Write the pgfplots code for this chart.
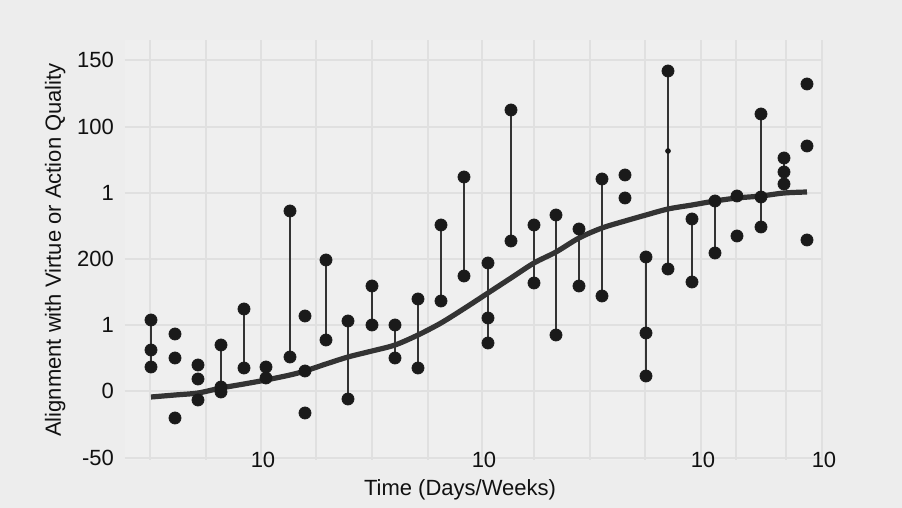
\documentclass[border=0pt]{standalone}
\usepackage{fontspec}
\setmainfont{Liberation Sans}
\usepackage{pgfplots}
\pgfplotsset{compat=1.18}
\usepackage{pgfplotstable}
\definecolor{outerbg}{HTML}{EDEDED}
\definecolor{plotbg}{HTML}{EFEFEF}
\definecolor{gridc}{HTML}{E0E0E0}
\definecolor{ink}{HTML}{1A1A1A}
\definecolor{labelc}{HTML}{111111}
\definecolor{curve}{HTML}{333333}

% x: horizontal position, h: height above the bottom grid line
\pgfplotstableread{
x h
151 138
151 108
151 91
175 124
175 100
175 40
198 93
198 79
198 58
221 113
221 71
221 66
244 149
244 90
266 91
266 80
290 247
290 101
305 142
305 87
305 45
326 198
326 118
348 137
348 59
372 172
372 133
395 133
395 100
418 159
418 90
441 233
441 157
464 281
464 182
488 195
488 140
488 115
511 348
511 217
534 233
534 175
556 243
556 123
579 229
579 172
602 279
602 162
625 283
625 260
646 201
646 125
646 82
668 387
668 189
692 239
692 176
715 257
715 205
737 262
737 222
761 344
761 261
761 231
784 300
784 286
784 274
807 374
807 312
807 218
}\points

\pgfplotstableread{
x h
151 138
151 91
nan nan
221 113
221 66
nan nan
244 149
244 90
nan nan
266 91
266 80
nan nan
290 247
290 101
nan nan
326 198
326 118
nan nan
348 137
348 59
nan nan
372 172
372 133
nan nan
395 133
395 100
nan nan
418 159
418 90
nan nan
441 233
441 157
nan nan
464 281
464 182
nan nan
488 195
488 115
nan nan
511 348
511 217
nan nan
534 233
534 175
nan nan
556 243
556 123
nan nan
579 229
579 172
nan nan
602 279
602 162
nan nan
646 201
646 82
nan nan
668 387
668 189
nan nan
692 239
692 176
nan nan
715 257
715 205
nan nan
761 344
761 231
nan nan
784 300
784 274
}\segments

\pgfplotstableread{
x h
151 61
175 63
198 65
221 70
244 74
266 78
290 83
305 87
326 94
348 101
372 107
395 113
418 123
441 135
465 150
488 165
511 180
534 195
556 206
579 220
602 230
625 237
646 243
668 249
692 253
715 257
737 260
761 262
784 265
807 266
}\trend

\begin{document}
\begin{tikzpicture}
\fill[outerbg] (-62.5pt,-24pt) rectangle (388.5pt,230pt);
\begin{axis}[
  scale only axis,
  width=349pt, height=210pt,
  xmin=125, xmax=823,
  ymin=-2, ymax=418,
  axis line style={draw=none},
  axis background/.style={fill=plotbg},
  xtick={261,482,701,822},
  xticklabels={10,10,10,10},
  minor xtick={150,206,316,372,428,534,590,645,736,786},
  ytick={0,67,133,199,265,331,398},
  yticklabels={-50,0,1,200,1,100,150},
  major tick length=0pt, minor tick length=0pt,
  grid=both,
  major grid style={gridc, line width=0.6pt},
  minor grid style={gridc, line width=0.6pt},
  ticklabel style={font=\fontsize{11}{13}\selectfont, text=labelc},
  xticklabel style={anchor=center, xshift=1pt},
  yticklabel style={xshift=-2pt},
  xlabel={Time (Days/Weeks)},
  ylabel={Alignment with Virtue or Action Quality},
  label style={font=\fontsize{11}{13}\selectfont, text=labelc},
  xlabel style={at={(axis description cs:0.48,-0.071)}, anchor=center},
  ylabel style={at={(axis description cs:-0.1,0.5)}, anchor=center},
  unbounded coords=jump,
  clip=false,
]
\addplot[curve, line width=0.75pt] table[x=x, y=h] {\segments};
\addplot[curve, line width=2.6pt, smooth] table[x=x, y=h] {\trend};
\addplot[only marks, mark=*, mark size=3pt, ink] table[x=x, y=h] {\points};
\addplot[only marks, mark=*, mark size=1.2pt, ink] coordinates {(668,307)};
\end{axis}
\end{tikzpicture}
\end{document}
